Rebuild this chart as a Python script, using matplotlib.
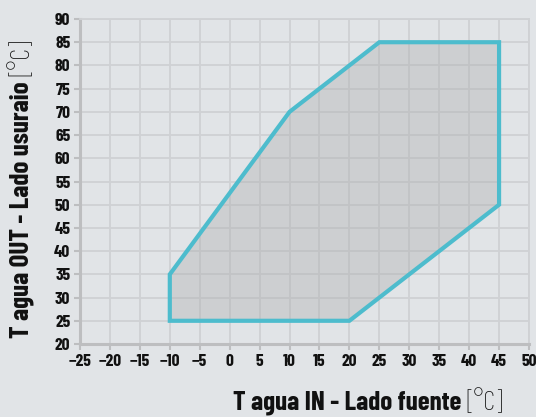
import matplotlib
matplotlib.use("Agg")
import matplotlib.pyplot as plt
from matplotlib.patches import Polygon

# Operating envelope (source water inlet temperature vs. user-side outlet temperature)
t_in = [-10, -10, 10, 25, 45, 45, 20]
t_out = [25, 35, 70, 85, 85, 50, 25]

x_ticks = list(range(-25, 51, 5))
y_ticks = list(range(20, 91, 5))

xlabel_bold = "T agua IN - Lado fuente"
ylabel_bold = "T agua OUT - Lado usuraio"
unit = "[°C]"

BG = "#e1e4e7"
GRID = "#cfd1d4"
SPINE = "#bdbec0"
LINE = "#4dbccd"
FONT = "Barlow Condensed"
TITLE_SIZE = 19.5

fig = plt.figure(figsize=(5.36, 4.17), dpi=100, facecolor=BG)
ax = fig.add_axes([80 / 536, 1 - 344 / 417, (529 - 80) / 536, (344 - 19) / 417])
ax.set_facecolor(BG)

ax.set_xlim(x_ticks[0], x_ticks[-1])
ax.set_ylim(y_ticks[0], y_ticks[-1])
ax.set_xticks(x_ticks)
ax.set_yticks(y_ticks)
ax.grid(True, color=GRID, linewidth=1.3, zorder=0)
ax.set_axisbelow(True)

for side in ("top", "right"):
    ax.spines[side].set_color(GRID)
    ax.spines[side].set_linewidth(1.3)
for side in ("left", "bottom"):
    ax.spines[side].set_color(SPINE)
    ax.spines[side].set_linewidth(2.2)

ax.tick_params(axis="both", direction="out", length=4, width=1.5, color=SPINE,
               pad=3, labelsize=12.5, labelcolor="#111111")
for lab in ax.get_xticklabels() + ax.get_yticklabels():
    lab.set_fontfamily(FONT)
    lab.set_fontweight("bold")

pts = list(zip(t_in, t_out))
ax.add_patch(Polygon(pts, closed=True, facecolor="#aaaaaa", alpha=0.35,
                     edgecolor="none", zorder=2))
ax.add_patch(Polygon(pts, closed=True, facecolor="none", edgecolor=LINE,
                     linewidth=3.0, joinstyle="miter", zorder=3))

# x-axis title: bold text followed by a light unit
xu = fig.text(503 / 536, 1 - 417 / 417 + 0.005, unit, fontfamily=FONT, fontweight="light",
              fontsize=TITLE_SIZE, ha="right", va="bottom", color="#111111")
ax.annotate(xlabel_bold + " ", xy=(0, 0), xycoords=xu, ha="right", va="bottom",
            fontfamily=FONT, fontweight="bold", fontsize=TITLE_SIZE, color="#111111")

# y-axis title: rotated, unit on top
yb = fig.text(22 / 536, 1 - 338 / 417, ylabel_bold + " ", fontfamily=FONT,
              fontweight="bold", fontsize=TITLE_SIZE, rotation=90, ha="center",
              va="bottom", color="#111111")
ax.annotate(unit, xy=(0.5, 1), xycoords=yb, ha="center", va="bottom",
            fontfamily=FONT, fontweight="light", fontsize=TITLE_SIZE, rotation=90,
            color="#111111")

fig.savefig("out.png", dpi=100, facecolor=BG)
